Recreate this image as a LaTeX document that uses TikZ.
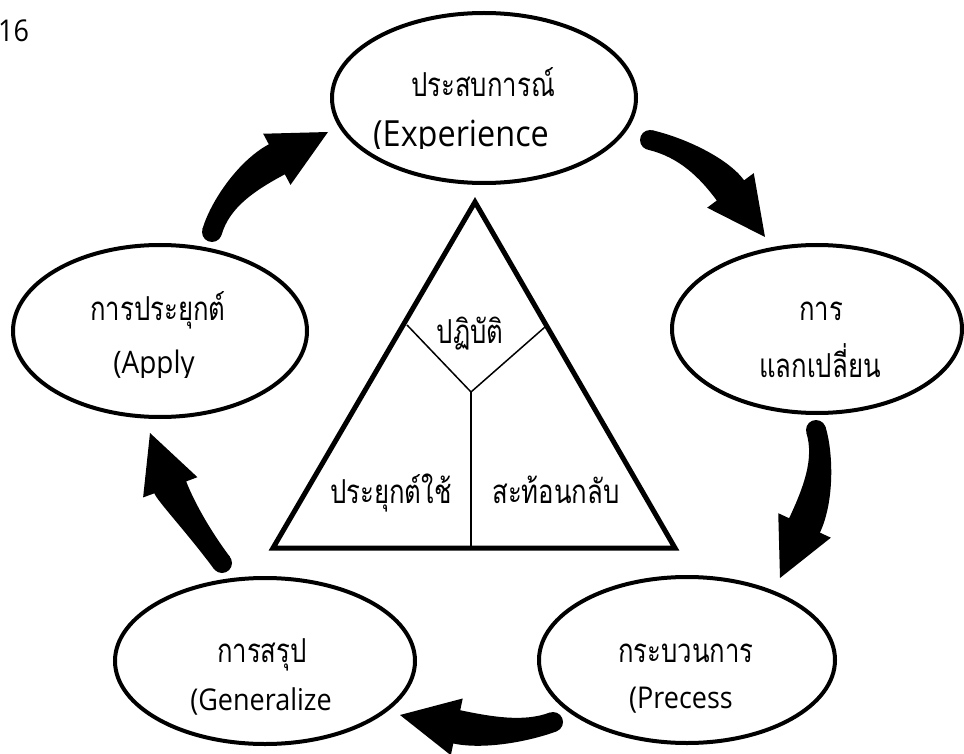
\documentclass[tikz,border=0pt]{standalone}
\usepackage{fontspec}
\setmainfont[Script=Thai,FakeStretch=0.78]{Loma}
\newfontfamily\latfont[FakeStretch=0.9]{Open Sans}
\usetikzlibrary{shapes.geometric,calc}
\newcommand\fatarrow[4]{% #1 tail, #2 control, #3 tip, #4 id
  \coordinate (#4B) at ($(#3)!58pt!(#2)$);
  \coordinate (#4p0) at ($(#1)!10pt!90:(#2)$);
  \coordinate (#4q0) at ($(#1)!10pt!-90:(#2)$);
  \coordinate (#4p1) at ($(#4B)!17pt!-90:(#2)$);
  \coordinate (#4q1) at ($(#4B)!17pt!90:(#2)$);
  \coordinate (#4h1) at ($(#4B)!29pt!-90:(#2)$);
  \coordinate (#4h2) at ($(#4B)!29pt!90:(#2)$);
  \fill (#4p0) .. controls ($(#4p0)+0.6*(#2)-0.6*(#1)$) and ($(#4p1)+0.6*(#2)-0.6*(#4B)$) .. (#4p1)
     -- (#4h1) -- (#3) -- (#4h2) -- (#4q1)
     .. controls ($(#4q1)+0.6*(#2)-0.6*(#4B)$) and ($(#4q0)+0.6*(#2)-0.6*(#1)$) .. (#4q0) -- cycle;
  \fill (#1) circle[radius=10pt];
}
\begin{document}
\begin{tikzpicture}[x=1pt,y=-1pt,
  oval/.style={ellipse,draw=black,line width=4pt,inner sep=0pt},
  lbl/.style={anchor=base,inner sep=0pt,font=\fontsize{33}{38}\selectfont},
  lat/.style={anchor=base,inner sep=0pt,font=\latfont\fontsize{#1}{36}\selectfont},
  thin/.style={line width=1.5pt}]
\useasboundingbox (0,0) rectangle (964,754);

% ellipses
\node[oval,minimum width=304pt,minimum height=170pt] (exp) at (484,98) {};
\node[oval,minimum width=290pt,minimum height=168pt] (exc) at (817,329) {};
\node[oval,minimum width=296pt,minimum height=166pt] (pro) at (687,660) {};
\node[oval,minimum width=300pt,minimum height=166pt] (gen) at (265,661) {};
\node[oval,minimum width=294pt,minimum height=172pt] (app) at (160,331) {};

% labels
\node[lbl] (exp1) at (483,97) {ประสบการณ์};
\begin{scope}
  \clip (300,100) rectangle (650,149);
  \node[lat=36] (exp2) at (461,147) {(Experience};
\end{scope}
\node[lbl] (exc1) at (821,320) {การ};
\node[lbl] (exc2) at (820,377) {แลกเปลี่ยน};
\node[lbl] (pro1) at (686,662) {กระบวนการ};
\node[lat=30] (pro2) at (681,708) {(Precess};
\node[lbl] (gen1) at (262,662) {การสรุป};
\node[lat=30] (gen2) at (261,710) {(Generalize};
\node[lbl] (app1) at (158,320) {การประยุกต์};
\begin{scope}
  \clip (0,330) rectangle (300,377);
  \node[lat=31] (app2) at (154,373) {(Apply};
\end{scope}
\node[lat=30,anchor=base west] (pg) at (-2,42) {16};

% triangle
\coordinate (t1) at (475,202);
\coordinate (t2) at (273,548);
\coordinate (t3) at (675,548);
\coordinate (tl) at (407,325);
\coordinate (tr) at (545,327);
\coordinate (tc) at (471,392);
\coordinate (tb) at (471,548);
\draw[thin] (tl) -- (tc) -- (tr);
\draw[thin] (tc) -- (tb);
\draw[line width=5pt,line join=miter] (t1) -- (t2) -- (t3) -- cycle;
\node[lbl] (tri1) at (470,343) {ปฏิบัติ};
\node[lbl] (tri2) at (391,503) {ประยุกต์ใช้};
\node[lbl] (tri3) at (556,503) {สะท้อนกลับ};

% arrows
\coordinate (a1s) at (650,140);
\coordinate (a1c) at (702,152);
\coordinate (a1t) at (765,237);
\coordinate (a2s) at (816,430);
\coordinate (a2c) at (829,473);
\coordinate (a2t) at (780,578);
\coordinate (a3s) at (553,722);
\coordinate (a3c) at (510,738);
\coordinate (a3t) at (400,715);
\coordinate (a4s) at (222,563);
\coordinate (a4c) at (175,500);
\coordinate (a4t) at (150,433);
\coordinate (a5s) at (212,232);
\coordinate (a5c) at (225,187);
\coordinate (a5t) at (328,132);
\fatarrow{a1s}{a1c}{a1t}{a1}
\fatarrow{a2s}{a2c}{a2t}{a2}
\fatarrow{a3s}{a3c}{a3t}{a3}
\fatarrow{a4s}{a4c}{a4t}{a4}
\fatarrow{a5s}{a5c}{a5t}{a5}
\end{tikzpicture}
\end{document}
